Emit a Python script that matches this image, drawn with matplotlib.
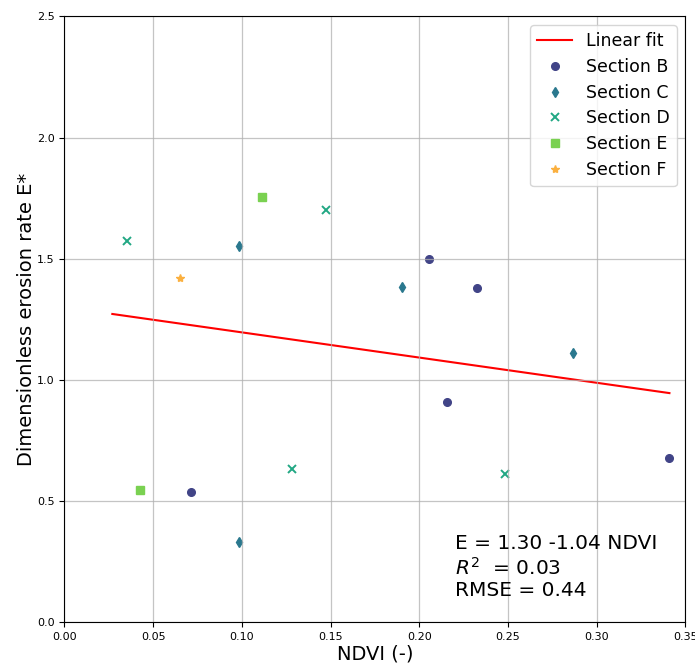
import matplotlib
matplotlib.use("Agg")
import matplotlib.pyplot as plt
import numpy as np

# NDVI and dimensionless erosion rate per section
b_ndvi = [0.2053, 0.2324, 0.2155, 0.3408, 0.0712]
b_rate = [1.498, 1.379, 0.908, 0.676, 0.537]

c_ndvi = [0.0986, 0.1903, 0.2865, 0.0986]
c_rate = [1.554, 1.385, 1.110, 0.332]

d_ndvi = [0.0353, 0.1473, 0.1283, 0.2484]
d_rate = [1.573, 1.701, 0.632, 0.610]

e_ndvi = [0.1112, 0.0424]
e_rate = [1.755, 0.546]

f_ndvi = [0.0653]
f_rate = [1.422]

# Linear fit E = a + b * NDVI
fit_intercept = 1.30
fit_slope = -1.04
fit_r2 = 0.03
fit_rmse = 0.44
fit_range = [0.027, 0.341]

fig = plt.figure(figsize=(6.95, 6.64), dpi=100)
ax = fig.add_axes([0.0927, 0.063, 0.8935, 0.9123])

xf = np.array(fit_range)
ax.plot(xf, fit_intercept + fit_slope * xf, color="red", lw=1.5, label="Linear fit")

ax.plot(b_ndvi, b_rate, "o", color="#414487", ms=5.5, ls="none", label="Section B")
ax.plot(c_ndvi, c_rate, "d", color="#2a788e", ms=5.5, ls="none", label="Section C")
ax.plot(d_ndvi, d_rate, "x", color="#22a884", ms=5.5, mew=1.4, ls="none", label="Section D")
ax.plot(e_ndvi, e_rate, "s", color="#7ad151", ms=5.5, ls="none", label="Section E")
ax.plot(f_ndvi, f_rate, "*", color="#fbb03f", ms=6, ls="none", label="Section F")

ax.set_xlim(0, 0.35)
ax.set_ylim(0, 2.5)
ax.set_xticks(np.arange(0, 0.351, 0.05))
ax.set_yticks(np.arange(0, 2.51, 0.5))
ax.tick_params(labelsize=8)
ax.set_axisbelow(False)
ax.grid(True, color="#b0b0b0", lw=0.9, alpha=0.75)
for sp in ax.spines.values():
    sp.set_zorder(3)

ax.set_xlabel("NDVI (-)", fontsize=14, labelpad=2)
ax.set_ylabel("Dimensionless erosion rate E*", fontsize=14, labelpad=1)

ax.text(0.22, 0.09,
        f"E = {fit_intercept:.2f} {fit_slope:.2f} NDVI\n$R^2$  = {fit_r2:.2f}\nRMSE = {fit_rmse:.2f}",
        fontsize=14.5, va="bottom", ha="left")

ax.legend(loc="upper right", fontsize=12.5, labelspacing=0.45)

fig.savefig("out.png", dpi=100)
